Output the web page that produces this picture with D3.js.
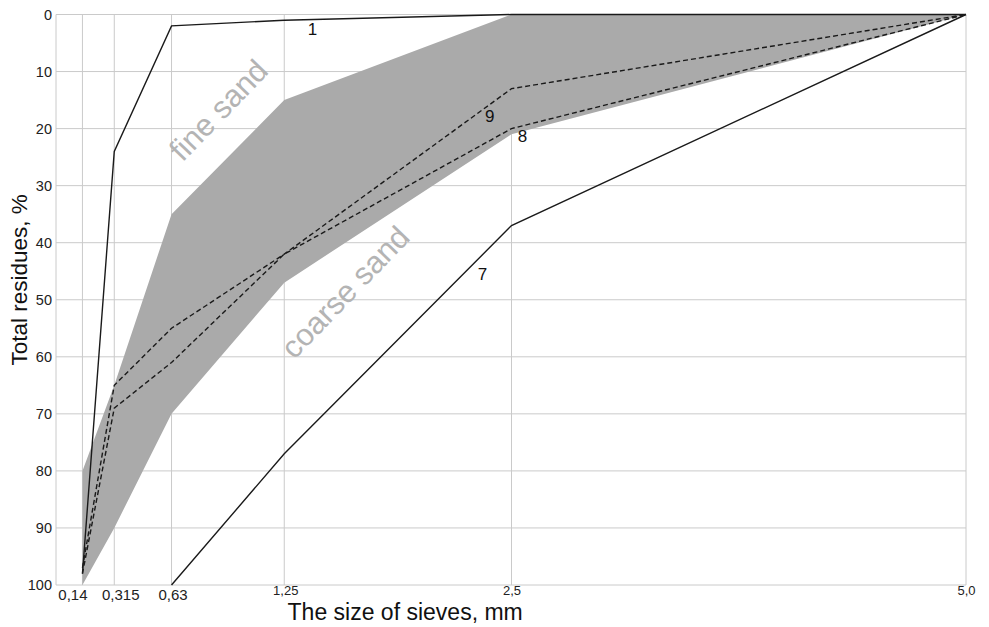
<!DOCTYPE html>
<html>
<head>
<meta charset="utf-8">
<script src="https://cdn.jsdelivr.net/npm/d3@7"></script>
<style>
  body { margin: 0; background: #fff; }
  svg { font-family: "Liberation Sans", Arial, sans-serif; }
</style>
</head>
<body>
<div id="root"></div>
<script>
// Sieve sizes, mm
const sieves = [0.14, 0.315, 0.63, 1.25, 2.5, 5.0];
const sieveLabels = ['0,14', '0,315', '0,63', '1,25', '2,5', '5,0'];
const yTicks = [0, 10, 20, 30, 40, 50, 60, 70, 80, 90, 100];

// Total residues, % (per sieve)
const curve1 = [98, 24, 2, 1, 0, 0];
const curve7 = [null, null, 100, 77, 37, 0];
const curve8 = [98, 69, 61, 42, 20, 0];
const curve9 = [97, 65, 55, 42, 13, 0];

// zone between fine and coarse sand bounds
const bandFine = [80, 65, 35, 15, 0, 0];
const bandCoarse = [100, 90, 70, 47, 21, 0];

// curve labels, in data units
const curveLabels = [
  { t: '1', x: 1.405, y: 2.8 },
  { t: '9', x: 2.38, y: 18.0 },
  { t: '8', x: 2.56, y: 21.5 },
  { t: '7', x: 2.34, y: 45.7 }
];
const zoneLabels = [
  { t: 'fine sand', x: 0.69, y: 26.0 },
  { t: 'coarse sand', x: 1.305, y: 60.6 }
];

const root = document.getElementById('root');
const W = 989, H = 627;
const padding = { top: 14.5, right: 23, bottom: 42, left: 57 };
const width = W - padding.left - padding.right;
const height = H - padding.top - padding.bottom;

const svg = d3.select(root).append('svg')
    .attr('width', W)
    .attr('height', H);
const g = svg.append('g')
    .attr('transform', `translate(${padding.left},${padding.top})`);

const x = d3.scaleLinear().domain([0, 5]).range([0, width]);
const y = d3.scaleLinear().domain([0, 100]).range([0, height]);

// grid
g.append('g').selectAll('line.h')
    .data(yTicks).enter().append('line')
    .attr('x1', -1).attr('x2', width)
    .attr('y1', d => y(d)).attr('y2', d => y(d))
    .attr('stroke', '#cacaca').attr('stroke-width', 1);
g.append('g').selectAll('line.v')
    .data([0].concat(sieves)).enter().append('line')
    .attr('x1', d => x(d) - (d === 0 ? 1 : 0)).attr('x2', d => x(d) - (d === 0 ? 1 : 0))
    .attr('y1', 0).attr('y2', height)
    .attr('stroke', '#cacaca').attr('stroke-width', 1);

// sand zone
const pts = sieves.map((s, i) => ({ s, lo: bandFine[i], hi: bandCoarse[i] }));
g.append('path')
    .datum(pts)
    .attr('fill', '#aaaaaa')
    .attr('d', d3.area().x(d => x(d.s)).y0(d => y(d.lo)).y1(d => y(d.hi)));

// zone labels
g.selectAll('text.zone')
    .data(zoneLabels).enter().append('text')
    .attr('transform', d => `translate(${x(d.x)},${y(d.y)}) rotate(-46)`)
    .attr('font-size', 31)
    .attr('fill', '#b4b4b4')
    .text(d => d.t);

// curves
const line = d3.line()
    .defined(d => d.v !== null)
    .x(d => x(d.s)).y(d => y(d.v));
const series = [
  { v: curve1, dash: null },
  { v: curve7, dash: null },
  { v: curve8, dash: '5,3' },
  { v: curve9, dash: '5,3' }
];
g.selectAll('path.curve')
    .data(series).enter().append('path')
    .attr('fill', 'none')
    .attr('stroke', '#1a1a1a')
    .attr('stroke-width', 1.4)
    .attr('stroke-dasharray', d => d.dash)
    .attr('d', d => line(sieves.map((s, i) => ({ s, v: d.v[i] }))));

g.selectAll('text.cl')
    .data(curveLabels).enter().append('text')
    .attr('x', d => x(d.x)).attr('y', d => y(d.y))
    .attr('text-anchor', 'middle')
    .attr('dominant-baseline', 'middle')
    .attr('font-size', 17)
    .attr('fill', '#111')
    .text(d => d.t);

// axes
const yAxis = d3.axisLeft(y).tickValues(yTicks).tickSize(0).tickPadding(5);
g.append('g').call(yAxis)
    .call(a => a.select('.domain').remove())
    .selectAll('text').attr('font-size', 14.5).attr('fill', '#222')
    .attr('font-family', '"Liberation Sans", Arial, sans-serif');

const labelShift = [-10, 6, 1, 1, 0, 0];
const xAxis = d3.axisBottom(x).tickValues(sieves)
    .tickFormat((d, i) => sieveLabels[i]).tickSize(0).tickPadding(5);
g.append('g').attr('transform', `translate(0,${height})`).call(xAxis)
    .call(a => a.select('.domain').remove())
    .selectAll('text')
    .attr('font-size', (d, i) => i < 3 ? 15 : 13)
    .attr('fill', '#222')
    .attr('font-family', '"Liberation Sans", Arial, sans-serif')
    .attr('dx', (d, i) => labelShift[i])
    .attr('dy', (d, i) => i < 3 ? '0.65em' : '0.4em');

// titles
svg.append('text')
    .attr('x', padding.left + x(1.915)).attr('y', H - 7)
    .attr('text-anchor', 'middle')
    .attr('font-size', 23).attr('fill', '#111')
    .text('The size of sieves, mm');
svg.append('text')
    .attr('transform', `translate(27,${padding.top + y(46.5)}) rotate(-90)`)
    .attr('text-anchor', 'middle')
    .attr('font-size', 22.5).attr('fill', '#111')
    .text('Total residues, %');
</script>
</body>
</html>
